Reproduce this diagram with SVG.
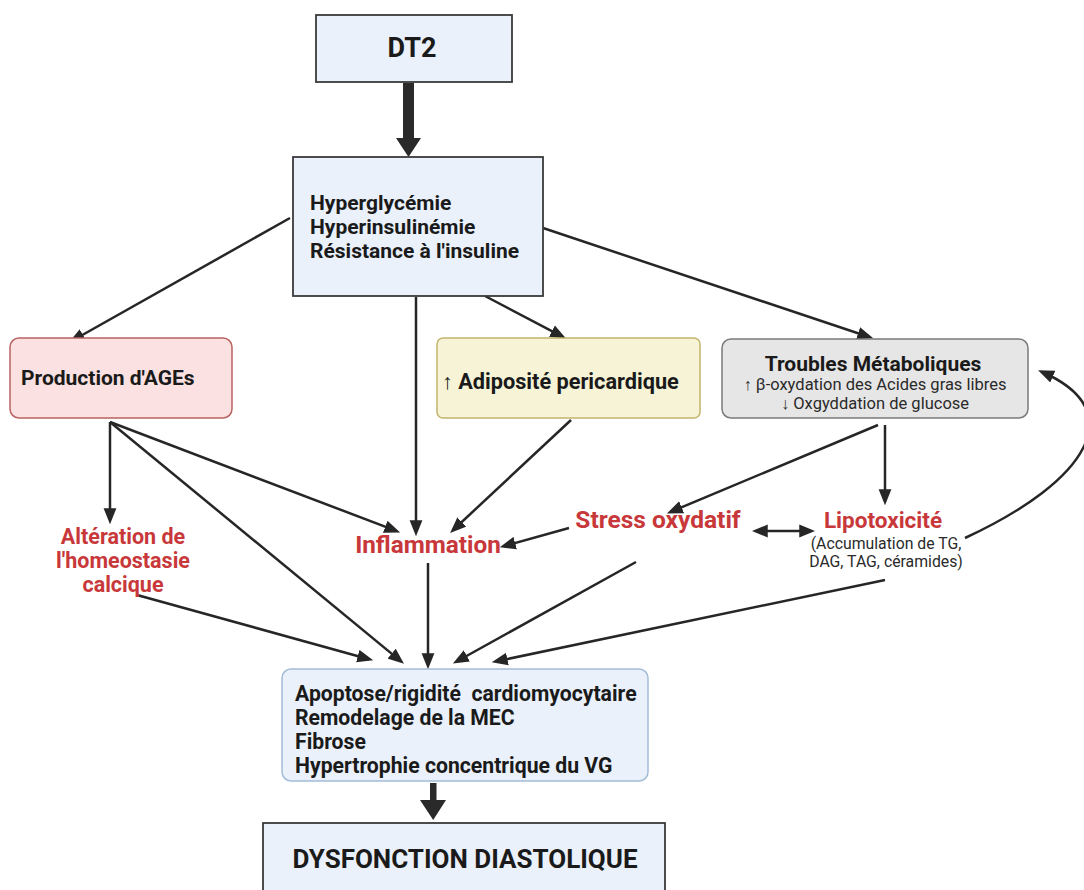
<svg xmlns="http://www.w3.org/2000/svg" width="1084" height="890" viewBox="0 0 1084 890">
<defs>
<marker id="ah" markerUnits="userSpaceOnUse" markerWidth="16" markerHeight="14" viewBox="0 0 15 12" refX="11" refY="6" orient="auto-start-reverse">
<path d="M0,0 L15,6 L0,12 z" fill="#262626"/>
</marker>
<style>
.t{font-family:Roboto,"Liberation Sans",Arial,sans-serif;}
.b{font-weight:bold;fill:#1a1a1a;}
.r{font-weight:bold;fill:#c8383a;}
.n{fill:#2a2a2a;}
.c{stroke:#262626;stroke-width:2.5;fill:none;marker-end:url(#ah);}
.sq{fill:#eaf1fb;stroke:#3a3a3a;stroke-width:1.8;}
</style>
</defs>
<rect width="1084" height="890" fill="#ffffff"/>

<g id="connectors">
<polygon points="403,83 414,83 414,138 421,138 408.5,157 396,138 403,138" fill="#2a2a2a"/>
<line class="c" x1="290" y1="218" x2="72.6" y2="340.5"/>
<line class="c" x1="416" y1="297" x2="416" y2="532"/>
<line class="c" x1="485" y1="296" x2="562.3" y2="336.6"/>
<line class="c" x1="543" y1="228" x2="869.2" y2="337"/>
<line class="c" x1="110" y1="422" x2="110" y2="520"/>
<line class="c" x1="110" y1="422" x2="396.2" y2="530.9"/>
<line class="c" x1="110" y1="422" x2="400.7" y2="661.1"/>
<line class="c" x1="571" y1="420" x2="453.2" y2="530"/>
<line class="c" x1="569" y1="528" x2="503.9" y2="546.2"/>
<line class="c" x1="878" y1="425" x2="670.8" y2="511.8"/>
<line class="c" x1="885" y1="425" x2="885" y2="501"/>
<line class="c" x1="756" y1="531" x2="811" y2="531" style="marker-start:url(#ah)"/>
<path class="c" d="M965,538 C1090,480 1130,410 1042,372"/>
<line class="c" x1="137" y1="595" x2="369.1" y2="659.2"/>
<line class="c" x1="428" y1="563" x2="428" y2="665"/>
<line class="c" x1="636" y1="562" x2="456.6" y2="661.5"/>
<line class="c" x1="885" y1="580" x2="495.9" y2="661.4"/>
<polygon points="430,783 436.5,783 436.5,800 446,800 433.2,820 420,800 430,800" fill="#2a2a2a"/>
</g>

<g id="dt2">
<rect class="sq" x="316" y="15" width="196" height="67"/>
<text class="t b" x="412" y="57" font-size="27" text-anchor="middle">DT2</text>
</g>

<g id="hyper">
<rect class="sq" x="293" y="157" width="250" height="139"/>
<text class="t b" x="310" y="210" font-size="21">Hyperglycémie</text>
<text class="t b" x="310" y="234" font-size="21">Hyperinsulinémie</text>
<text class="t b" x="310" y="258" font-size="21">Résistance à l'insuline</text>
</g>

<g id="ages">
<rect x="10" y="338" width="222" height="80" rx="9" fill="#fbe1e1" stroke="#b96363" stroke-width="1.5"/>
<text class="t b" x="21" y="385" font-size="21">Production d'AGEs</text>
</g>

<g id="adiposite">
<rect x="437" y="338" width="263" height="80" rx="6" fill="#f6f3d6" stroke="#c4b46c" stroke-width="1.5"/>
<text class="t b" x="442" y="389" font-size="21.7">↑ Adiposité pericardique</text>
</g>

<g id="troubles">
<rect x="722" y="339" width="306" height="79" rx="9" fill="#e6e6e6" stroke="#7a7a7a" stroke-width="1.5"/>
<text class="t b" x="873" y="371" font-size="21" text-anchor="middle">Troubles Métaboliques</text>
<text class="t n" x="875" y="390" font-size="16.5" text-anchor="middle">↑ β-oxydation des Acides gras libres</text>
<text class="t n" x="875" y="409" font-size="16.5" text-anchor="middle">↓ Oxgyddation de glucose</text>
</g>

<g id="alteration">
<text class="t r" x="123" y="544" font-size="21.5" text-anchor="middle">Altération de</text>
<text class="t r" x="123" y="568" font-size="21.5" text-anchor="middle">l'homeostasie</text>
<text class="t r" x="123" y="592" font-size="21.5" text-anchor="middle">calcique</text>
</g>

<g id="inflammation">
<text class="t r" x="428" y="553" font-size="24.3" text-anchor="middle">Inflammation</text>
</g>

<g id="stress">
<text class="t r" x="658" y="528" font-size="24.5" text-anchor="middle">Stress oxydatif</text>
</g>

<g id="lipotoxicite">
<text class="t r" x="883" y="528" font-size="22.5" text-anchor="middle">Lipotoxicité</text>
<text class="t n" x="886" y="549" font-size="15.8" text-anchor="middle">(Accumulation de TG,</text>
<text class="t n" x="886" y="567" font-size="15.8" text-anchor="middle">DAG, TAG, céramides)</text>
</g>

<g id="apoptose">
<rect x="282" y="669" width="366" height="112" rx="9" fill="#eaf1fb" stroke="#a3bcd8" stroke-width="1.5"/>
<text class="t b" x="295" y="701" font-size="21.2" xml:space="preserve">Apoptose/rigidité  cardiomyocytaire</text>
<text class="t b" x="295" y="725" font-size="21.2">Remodelage de la MEC</text>
<text class="t b" x="295" y="749" font-size="21.2">Fibrose</text>
<text class="t b" x="295" y="773" font-size="21.2">Hypertrophie concentrique du VG</text>
</g>

<g id="dysfonction">
<rect class="sq" x="263" y="823" width="402" height="80"/>
<text class="t b" x="465" y="868" font-size="26" text-anchor="middle">DYSFONCTION DIASTOLIQUE</text>
</g>
</svg>
